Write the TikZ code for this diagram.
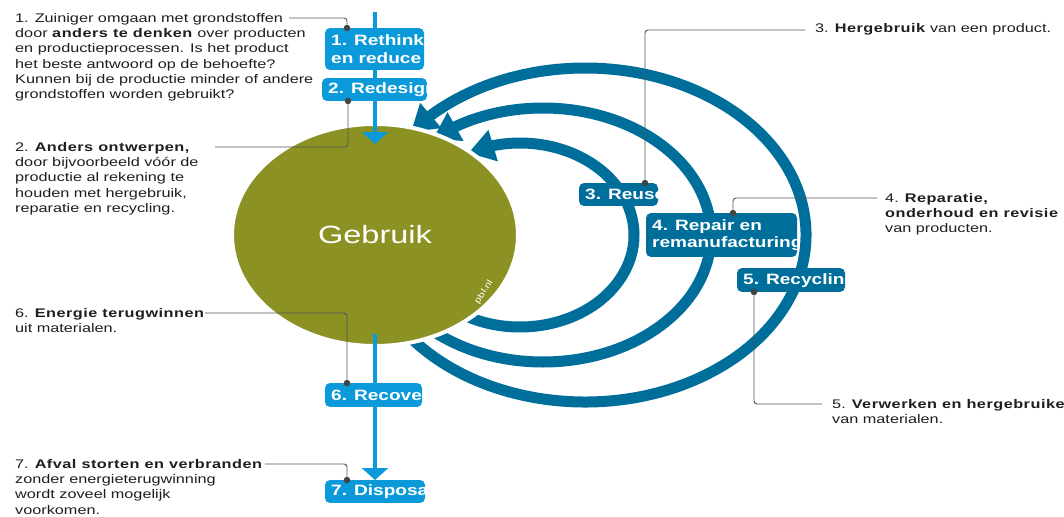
\documentclass[tikz,border=0pt]{standalone}
\usepackage{fontspec}
\setmainfont{Liberation Sans}[FakeStretch=1.3,BoldFeatures={LetterSpace=4}]
\newfontfamily\boxfont{Liberation Sans}[FakeStretch=1.27]
\usetikzlibrary{shapes.geometric,arrows.meta,bending,calc}
\definecolor{lblue}{HTML}{0A9ADA}
\definecolor{dblue}{HTML}{006E9B}
\definecolor{olive}{HTML}{8C9124}
\definecolor{leadgray}{HTML}{555555}
\definecolor{txtgray}{HTML}{1E1E1E}
\tikzstyle{boxl}=[fill=lblue,text=white,anchor=north west,align=left,inner xsep=6pt,inner ysep=0pt,font=\boxfont\bfseries\fontsize{15}{17.5}\selectfont]
\tikzstyle{boxd}=[boxl,fill=dblue]
\tikzstyle{note}=[anchor=north west,align=left,inner sep=0pt,text=txtgray,font=\fontsize{12.5}{15.3}\selectfont]
\tikzstyle{leader}=[draw=leadgray,line width=0.9pt,rounded corners=3pt]
\tikzstyle{leaddot}=[circle,fill=leadgray!80!black,minimum size=6.5pt,inner sep=0pt]
\tikzstyle{flowline}=[draw=lblue,line width=3.5pt,-{Triangle[width=26pt,length=12pt]}]
\tikzstyle{cyclearc}=[draw=dblue,line width=11pt,-{Triangle[width=31pt,length=26pt,flex]}]

\begin{document}
\begin{tikzpicture}[x=1pt,y=-1pt]
    \useasboundingbox (0,0) rectangle (1064,516);

    % kringlopen
    \foreach \cx/\rx/\ry/\s/\e in {585/221/167/145/-142,543/168/127/135/-131,520/114/92/120/-117}
    \draw[cyclearc] (\cx,235) ++({\s}:{\rx} and {\ry}) arc[start angle=\s,end angle=\e,x radius=\rx,y radius=\ry];

    \node[ellipse,fill=olive,draw=white,line width=4pt,minimum width=286pt,minimum height=222pt,
          text=white,font=\fontsize{25}{30}\selectfont] (use) at (375,235) {Gebruik};
    \node[rotate=57,text=white,font=\fontsize{8.5}{10}\selectfont] (pbl) at (484,292) {pbl.nl};

    % lineaire stroom
    \coordinate (src) at (375,12);
    \draw[flowline] (src) -- ($(use.north)+(0,22)$);

    \begin{scope}
        \clip[rounded corners=5pt] (325,28) rectangle (424,70);
        \node[boxl,minimum height=42pt] (rethink) at (325,28) {1. Rethink\\en reduce};
    \end{scope}
    \begin{scope}
        \clip[rounded corners=5pt] (322,78) rectangle (427,101);
        \node[boxl,minimum height=23pt] (redesign) at (322,78) {2. Redesign};
    \end{scope}
    \begin{scope}
        \clip[rounded corners=5pt] (325,480) rectangle (425,503);
        \node[boxl,minimum height=23pt] (disposal) at (325,480) {7. Disposal};
    \end{scope}

    \draw[flowline] ($(use.south)+(0,-14)$) -- (disposal.north -| src);

    \begin{scope}
        \clip[rounded corners=5pt] (325,383) rectangle (422,407);
        \node[boxl,minimum height=24pt] (recover) at (325,383) {6. Recover};
    \end{scope}
    \begin{scope}
        \clip[rounded corners=5pt] (579,183) rectangle (658,206);
        \node[boxd,minimum height=23pt] (reuse) at (579,183) {3. Reuse};
    \end{scope}
    \begin{scope}
        \clip[rounded corners=5pt] (646,213) rectangle (797,257);
        \node[boxd,minimum height=44pt] (repair) at (646,213) {4. Repair en\\remanufacturing};
    \end{scope}
    \begin{scope}
        \clip[rounded corners=5pt] (737,268) rectangle (845,292);
        \node[boxd,minimum height=24pt] (recycling) at (737,268) {5. Recycling};
    \end{scope}

    % toelichtingen
    \node[note] (txtone) at (15,13) {1. Zuiniger omgaan met grondstoffen\\door \textbf{anders te denken} over producten\\en productieprocessen. Is het product\\het beste antwoord op de behoefte?\\Kunnen bij de productie minder of andere\\grondstoffen worden gebruikt?};
    \node[note] (txttwo) at (15,142) {2. \textbf{Anders ontwerpen,}\\door bijvoorbeeld v\'o\'or de\\productie al rekening te\\houden met hergebruik,\\reparatie en recycling.};
    \node[note] (txtthree) at (815,23) {3. \textbf{Hergebruik} van een product.};
    \node[note] (txtfour) at (885,193) {4. \textbf{Reparatie,}\\\textbf{onderhoud en revisie}\\van producten.};
    \node[note] (txtfive) at (832,399) {5. \textbf{Verwerken en hergebruiken}\\van materialen.};
    \node[note] (txtsix) at (15,308) {6. \textbf{Energie terugwinnen}\\uit materialen.};
    \node[note] (txtseven) at (15,459) {7. \textbf{Afval storten en verbranden}\\zonder energieterugwinning\\wordt zoveel mogelijk\\voorkomen.};

    \node[leaddot] (d1) at (347,28) {};
    \node[leaddot] (d2) at (348,101) {};
    \node[leaddot] (d3) at (645,183) {};
    \node[leaddot] (d4) at (733,213) {};
    \node[leaddot] (d5) at (754,292) {};
    \node[leaddot] (d6) at (347,383) {};
    \node[leaddot] (d7) at (347,480) {};

    \coordinate (l1) at (289,18);
    \coordinate (l2) at (215,147);
    \coordinate (l3) at (805,30);
    \coordinate (l4) at (877,198);
    \coordinate (l5) at (822,404);
    \coordinate (l6) at (205,313);
    \coordinate (l7) at (265,464);
    \foreach \from/\to in {l1/d1,l2/d2,l3/d3,l4/d4,l5/d5,l6/d6,l7/d7}
    \draw[leader] (\from) -| (\to);
\end{tikzpicture}
\end{document}
